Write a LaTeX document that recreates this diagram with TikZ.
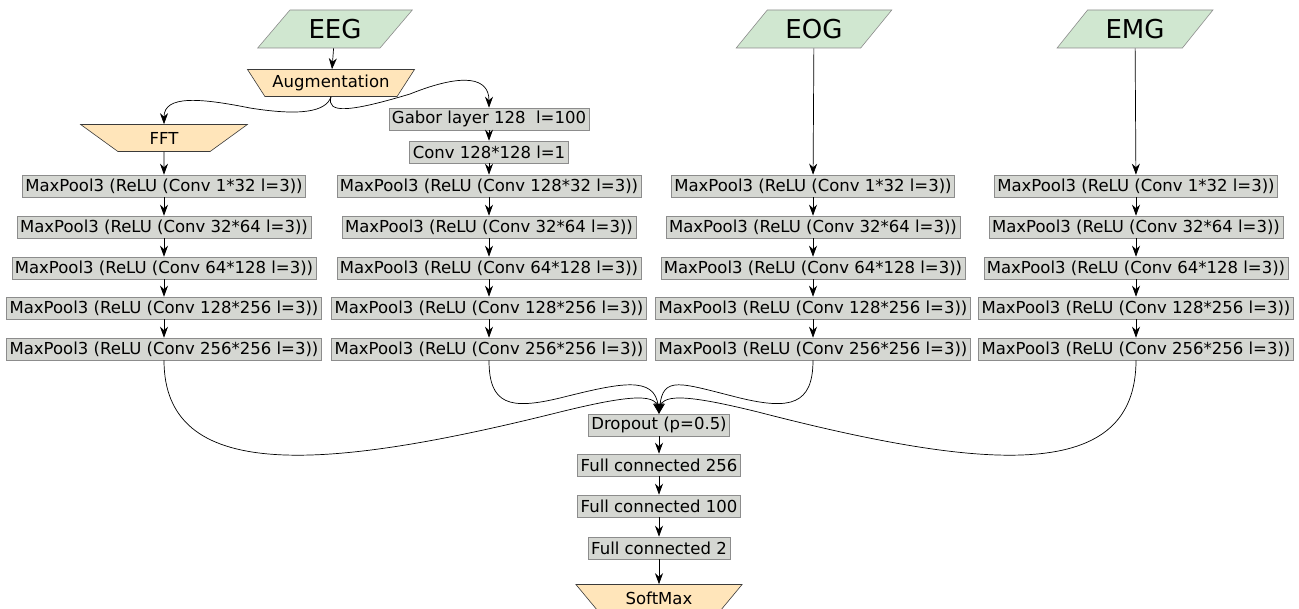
\documentclass[tikz,border=0pt]{standalone}
\usepackage{fontspec}
\setmainfont{DejaVu Sans}
\usepackage{tikz}
\usetikzlibrary{shapes.geometric,arrows.meta}
\definecolor{layergray}{HTML}{D5D7D2}
\definecolor{layerline}{HTML}{8C8C8C}
\definecolor{signalgreen}{HTML}{D0E7D0}
\definecolor{opfill}{HTML}{FFE5BA}
\definecolor{opline}{HTML}{3A3A3A}

\begin{document}
\begin{tikzpicture}[x=1pt,y=-1pt,
    layer/.style={draw=layerline,fill=layergray,line width=0.6pt,inner xsep=3pt,inner ysep=0pt,minimum height=22pt,font=\fontsize{16.5}{19}\selectfont},
    signal/.style={trapezium,trapezium left angle=46,trapezium right angle=134,trapezium stretches=true,draw=layerline,fill=signalgreen,line width=0.6pt,minimum width=156pt,minimum height=38pt,inner sep=0pt,font=\fontsize{26}{30}\selectfont},
    op/.style={trapezium,trapezium left angle=46,trapezium right angle=46,shape border rotate=180,trapezium stretches=true,draw=opline,fill=opfill,line width=0.6pt,minimum width=167pt,minimum height=27pt,inner sep=0pt,font=\fontsize{16.5}{19}\selectfont},
    arr/.style={-{Stealth[length=11pt,width=8pt,inset=3.5pt]},line width=0.7pt}]
    \useasboundingbox (0,0) rectangle (1299,609);

    % inputs
    \node[signal] (eeg) at (335,29) {EEG};
    \node[signal] (eog) at (814,29) {EOG};
    \node[signal] (emg) at (1135,29) {EMG};
    \node[op] (aug) at (331,83) {Augmentation};
    \node[op] (fft) at (164,138) {FFT};
    \node[layer] (gabor) at (489,119) {Gabor layer 128~ l=100};
    \node[layer] (conv) at (489,152) {Conv 128*128 l=1};

    % FFT branch
    \node[layer] (fft1) at (164,186) {MaxPool3 (ReLU (Conv 1*32 l=3))};
    \node[layer] (fft2) at (164,227) {MaxPool3 (ReLU (Conv 32*64 l=3))};
    \node[layer] (fft3) at (164,268) {MaxPool3 (ReLU (Conv 64*128 l=3))};
    \node[layer] (fft4) at (164,308) {MaxPool3 (ReLU (Conv 128*256 l=3))};
    \node[layer] (fft5) at (164,349) {MaxPool3 (ReLU (Conv 256*256 l=3))};

    % Gabor branch
    \node[layer] (gab1) at (489,186) {MaxPool3 (ReLU (Conv 128*32 l=3))};
    \node[layer] (gab2) at (489,227) {MaxPool3 (ReLU (Conv 32*64 l=3))};
    \node[layer] (gab3) at (489,268) {MaxPool3 (ReLU (Conv 64*128 l=3))};
    \node[layer] (gab4) at (489,308) {MaxPool3 (ReLU (Conv 128*256 l=3))};
    \node[layer] (gab5) at (489,349) {MaxPool3 (ReLU (Conv 256*256 l=3))};

    % EOG branch
    \node[layer] (eog1) at (813,186) {MaxPool3 (ReLU (Conv 1*32 l=3))};
    \node[layer] (eog2) at (813,227) {MaxPool3 (ReLU (Conv 32*64 l=3))};
    \node[layer] (eog3) at (813,268) {MaxPool3 (ReLU (Conv 64*128 l=3))};
    \node[layer] (eog4) at (813,308) {MaxPool3 (ReLU (Conv 128*256 l=3))};
    \node[layer] (eog5) at (813,349) {MaxPool3 (ReLU (Conv 256*256 l=3))};

    % EMG branch
    \node[layer] (emg1) at (1136,186) {MaxPool3 (ReLU (Conv 1*32 l=3))};
    \node[layer] (emg2) at (1136,227) {MaxPool3 (ReLU (Conv 32*64 l=3))};
    \node[layer] (emg3) at (1136,268) {MaxPool3 (ReLU (Conv 64*128 l=3))};
    \node[layer] (emg4) at (1136,308) {MaxPool3 (ReLU (Conv 128*256 l=3))};
    \node[layer] (emg5) at (1136,349) {MaxPool3 (ReLU (Conv 256*256 l=3))};

    % head
    \node[layer] (drop) at (659,425) {Dropout (p=0.5)};
    \node[layer] (fc1) at (659,465) {Full connected 256};
    \node[layer] (fc2) at (659,506) {Full connected 100};
    \node[layer] (fc3) at (659,548) {Full connected 2};
    \node[op] (soft) at (659,598) {SoftMax};

    % arrows
    \draw[arr] (eeg) -- (aug);
    \draw[arr] (aug.south) .. controls (326,112) and (300,116) .. (250,108) .. controls (200,98) and (164,95) .. (fft.north);
    \draw[arr] (aug.south) .. controls (326,114) and (350,112) .. (410,94) .. controls (465,72) and (489,78) .. (gabor.north);
    \draw[arr] (gabor) -- (conv);
    \draw[arr] (conv) -- (gab1);
    \draw[arr] (fft) -- (fft1);
    \draw[arr] (eog) -- (eog1);
    \draw[arr] (emg) -- (emg1);

    \draw[arr] (fft1) -- (fft2);
    \draw[arr] (fft2) -- (fft3);
    \draw[arr] (fft3) -- (fft4);
    \draw[arr] (fft4) -- (fft5);
    \draw[arr] (gab1) -- (gab2);
    \draw[arr] (gab2) -- (gab3);
    \draw[arr] (gab3) -- (gab4);
    \draw[arr] (gab4) -- (gab5);
    \draw[arr] (eog1) -- (eog2);
    \draw[arr] (eog2) -- (eog3);
    \draw[arr] (eog3) -- (eog4);
    \draw[arr] (eog4) -- (eog5);
    \draw[arr] (emg1) -- (emg2);
    \draw[arr] (emg2) -- (emg3);
    \draw[arr] (emg3) -- (emg4);
    \draw[arr] (emg4) -- (emg5);

    \draw[arr] (fft5.south) .. controls (164,482) and (320,472) .. (560,412) .. controls (625,396) and (655,393) .. (drop.north);
    \draw[arr] (gab5.south) .. controls (489,405) and (510,410) .. (560,398) .. controls (620,383) and (655,375) .. (drop.north);
    \draw[arr] (eog5.south) .. controls (813,405) and (790,410) .. (740,398) .. controls (680,383) and (663,375) .. (drop.north);
    \draw[arr] (emg5.south) .. controls (1136,482) and (990,472) .. (758,412) .. controls (693,396) and (663,393) .. (drop.north);

    \draw[arr] (drop) -- (fc1);
    \draw[arr] (fc1) -- (fc2);
    \draw[arr] (fc2) -- (fc3);
    \draw[arr] (fc3) -- (soft);
\end{tikzpicture}
\end{document}
